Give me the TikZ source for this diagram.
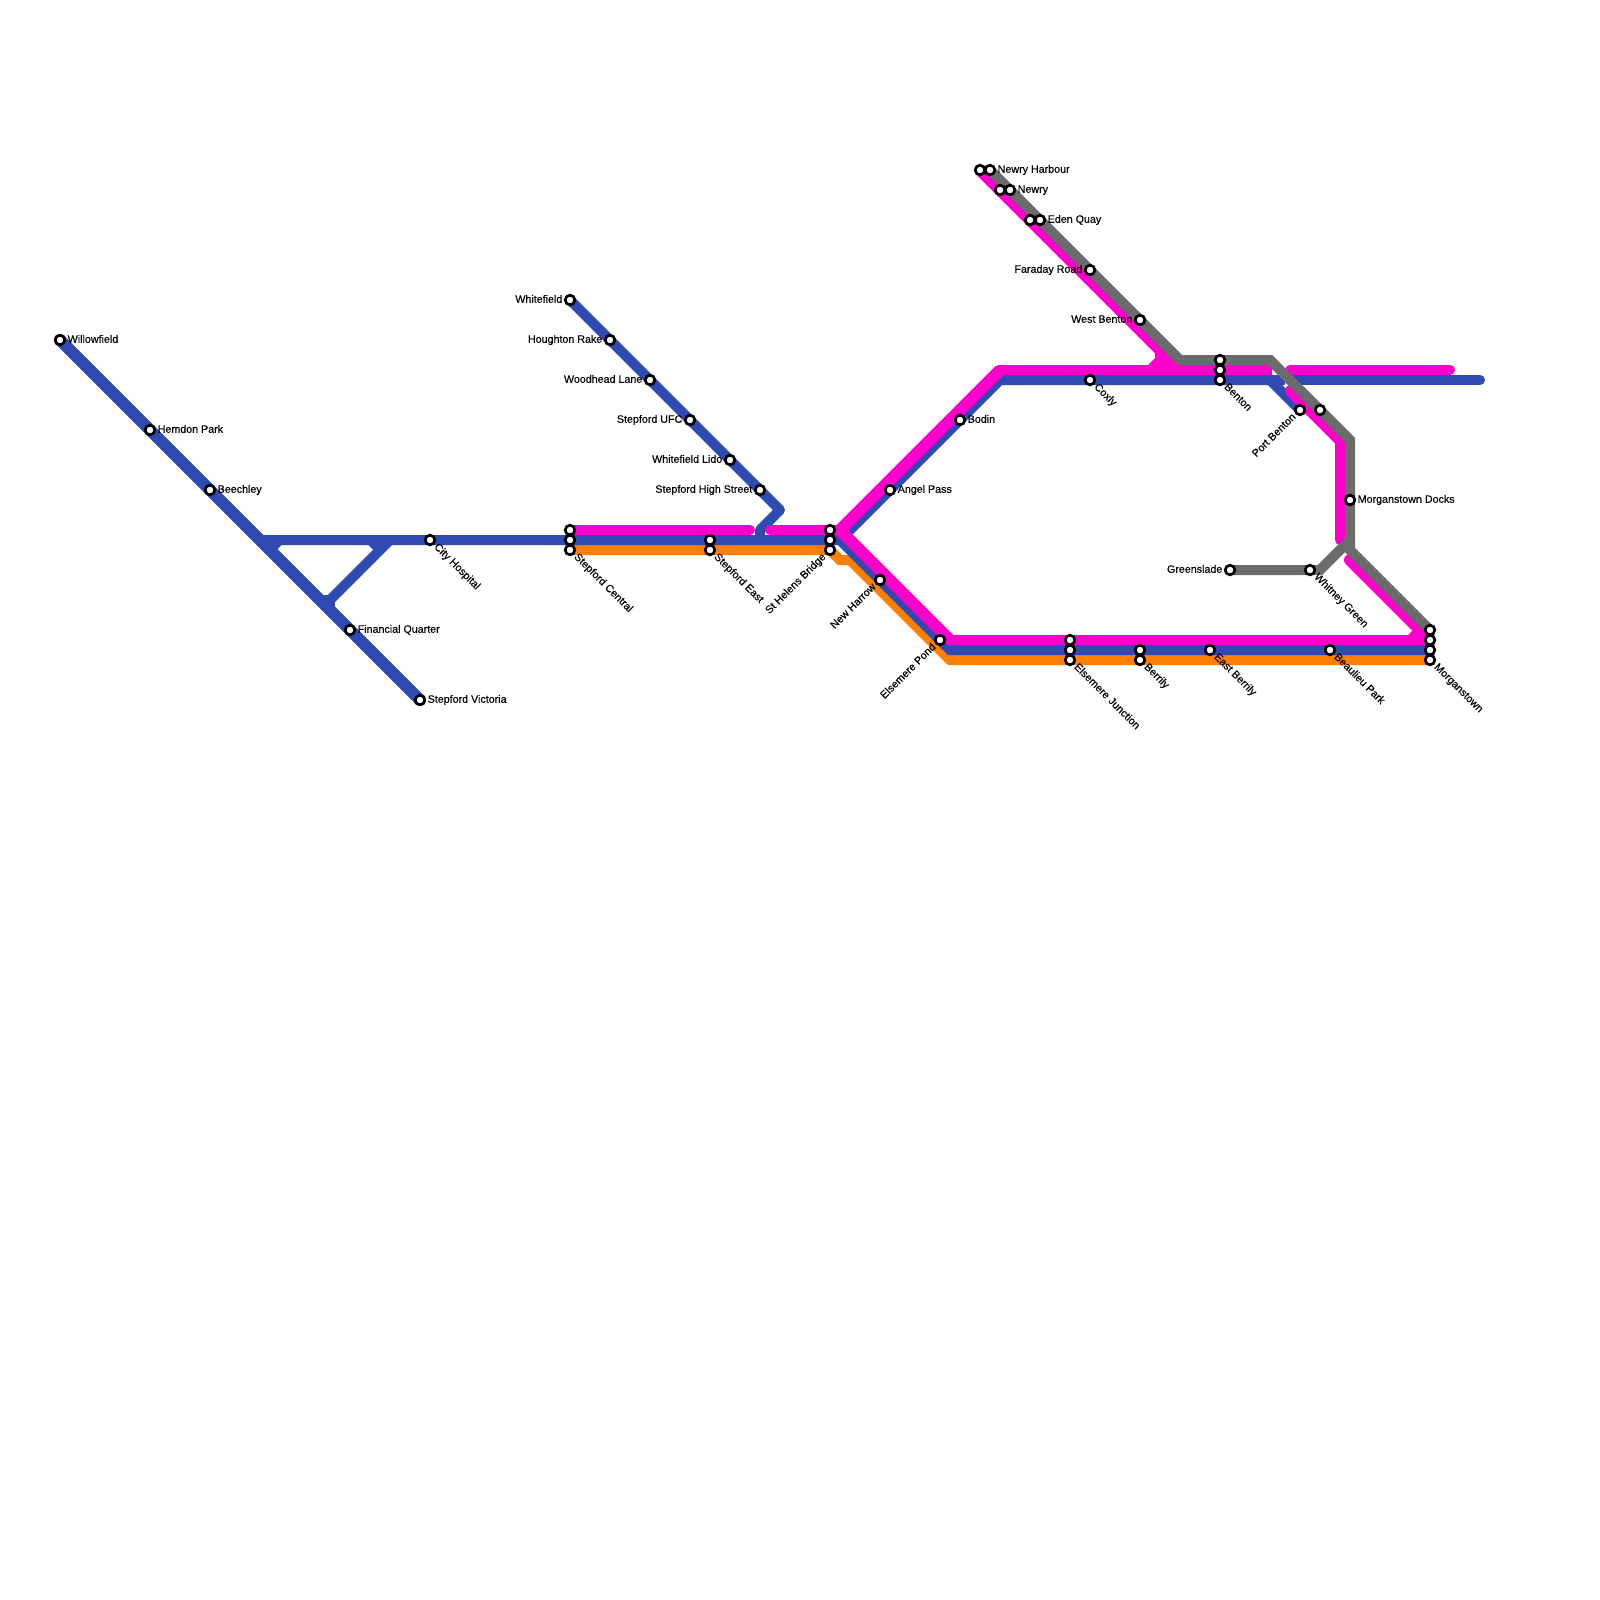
\documentclass[tikz,border=0pt]{standalone}
\usepackage{fontspec}
\setmainfont[FakeBold=0.3]{Liberation Sans}
\definecolor{lblue}{HTML}{2F4BB2}
\definecolor{lmag}{HTML}{FF00CC}
\definecolor{lor}{HTML}{FF7F00}
\definecolor{lgray}{HTML}{6B6B6B}
\tikzset{
  metro/.style={line width=10pt,line join=miter,miter limit=10},
  blueline/.style={metro,draw=lblue},
  magline/.style={metro,draw=lmag},
  orline/.style={metro,draw=lor},
  grayline/.style={metro,draw=lgray},
  wideSW/.style={line width=12pt,shift={(-0.75pt,0.75pt)}},
  stn/.style={circle,draw=black,fill=white,line width=2.7pt,minimum size=9.6pt,inner sep=0pt},
  lab/.style={font=\fontsize{10.7}{10.7}\selectfont,inner sep=0pt,text height=7.7pt,text depth=2.2pt,text=black},
  labR/.style={lab,anchor=west},
  labL/.style={lab,anchor=east},
  labD/.style={lab,anchor=west,rotate=-45},
  labU/.style={lab,anchor=east,rotate=45},
}
\newcommand{\stR}[4]{\node[stn] (s#1) at (#2,#3) {}; \node[labR] (t#1) at (#2+7.5,#3) {#4};}
\newcommand{\stL}[4]{\node[stn] (s#1) at (#2,#3) {}; \node[labL] (t#1) at (#2-7.5,#3) {#4};}
\newcommand{\stD}[4]{\node[stn] (s#1) at (#2,#3) {}; \node[labD] (t#1) at (#2+5.5,#3+5.5) {#4};}
\newcommand{\stU}[4]{\node[stn] (s#1) at (#2,#3) {}; \node[labU] (t#1) at (#2-5.5,#3+5.5) {#4};}
\newcommand{\stO}[3]{\node[stn] (s#1) at (#2,#3) {};}
\begin{document}
\begin{tikzpicture}[x=1pt,y=-1pt]
\useasboundingbox[fill=white] (0,0) rectangle (1600,1600);
% route vertices
\coordinate (bW) at (60,340);
\coordinate (bV) at (420,700);
\coordinate (bH) at (262,540);
\coordinate (bA) at (390,540);
\coordinate (bB) at (330,600);
\coordinate (bC) at (840,540);
\coordinate (bD) at (950,650);
\coordinate (bE) at (1430,650);
\coordinate (bF) at (1000,380);
\coordinate (bG) at (1285,380);
\coordinate (bI) at (1270,380);
\coordinate (bJ) at (1300,410);
\coordinate (bK) at (1290,380);
\coordinate (bL) at (1480,380);
\coordinate (bT) at (570,300);
\coordinate (bU) at (780,510);
\coordinate (bX) at (760,530);
\coordinate (bY) at (760,540);
\coordinate (mA) at (570,530);
\coordinate (mB) at (750,530);
\coordinate (mC) at (770,530);
\coordinate (mD) at (840,530);
\coordinate (mE) at (1000,370);
\coordinate (mF) at (1272,370);
\coordinate (mG) at (1290,370);
\coordinate (mH) at (1450,370);
\coordinate (mI) at (950,640);
\coordinate (mJ) at (1430,640);
\coordinate (mK) at (980,170);
\coordinate (mL) at (1180,370);
\coordinate (mM) at (1290,390);
\coordinate (mN) at (1340,440);
\coordinate (mO) at (1340,540);
\coordinate (mP) at (1350,560);
\coordinate (oA) at (570,550);
\coordinate (oB) at (830,550);
\coordinate (oC) at (840,560);
\coordinate (oD) at (850,560);
\coordinate (oE) at (950,660);
\coordinate (oF) at (1430,660);
\coordinate (gA) at (990,170);
\coordinate (gB) at (1180,360);
\coordinate (gC) at (1270,360);
\coordinate (gD) at (1350,440);
\coordinate (gE) at (1350,550);
\coordinate (gF) at (1430,630);
\coordinate (gG) at (1230,570);
\coordinate (gH) at (1320,570);
\coordinate (gI) at (1350,540);
% orange
\draw[orline] (oA) -- (oB) -- (oC) -- (oD) -- (oE) -- (oF);
% blue
\draw[blueline,line cap=round,wideSW] (bW) -- (bV);
\draw[blueline] (bH) -- (bC) -- (bD) -- (bE);
\draw[blueline] (bA) -- (bB);
\fill[lblue] (322,595) rectangle (335,607);
\fill[lblue] (265,545) -- (281.7,545) -- (277.3,549.3) -- (270,551) -- cycle;
\fill[lblue] (368.3,545) -- (372.7,549.3) -- (385,547) -- (385,545) -- cycle;
\draw[blueline,line cap=round,line join=round] (bT) -- (bU) -- (bX) -- (bY);
\draw[blueline] (bC) -- (bF) -- (bG);
\draw[blueline] (bI) -- (bJ);
\draw[blueline,line cap=round] (bK) -- (bL);
% magenta
\draw[magline,line cap=round] (mA) -- (mB);
\draw[magline] (mD) -- (mE) -- (mF);
\draw[magline] (mD) -- (mI) -- (mJ);
\draw[magline,line width=12pt,shift={(-0.75pt,-0.75pt)}] (mD) -- (mE);
\draw[magline,wideSW] (mD) -- (mI);
\draw[magline,line cap=round] (mC) -- (mD);
\draw[magline,line cap=round] (mG) -- (mH);
\draw[magline,wideSW] (mK) -- (mL);
\fill[lmag] (1155,352) -- (1155,358) -- (1148,365) -- (1175,365) -- cycle;
\draw[magline,line cap=round] (mM) -- (mN) -- (mO);
\draw[magline,wideSW] (mM) -- (mN);
\draw[magline,line cap=round,wideSW] (mP) -- (mJ);
\fill[lmag] (1413,630) -- (1408,635) -- (1430,635) -- (1430,630) -- cycle;
% gray
\draw[grayline] (gA) -- (gB) -- (gC) -- (gD) -- (gE) -- (gF);
\draw[grayline] (gG) -- (gH) -- (gI);
% stations
\stR{willow}{60}{340}{Willowfield}
\stR{hemdon}{150}{430}{Hemdon Park}
\stR{beech}{210}{490}{Beechley}
\stR{fin}{350}{630}{Financial Quarter}
\stR{vict}{420}{700}{Stepford Victoria}
\stD{city}{430}{540}{City Hospital}
\stO{scA}{570}{530}
\stO{scB}{570}{540}
\stD{scC}{570}{550}{Stepford Central}
\stL{white}{570}{300}{Whitefield}
\stL{hough}{610}{340}{Houghton Rake}
\stL{wood}{650}{380}{Woodhead Lane}
\stL{ufc}{690}{420}{Stepford UFC}
\stL{lido}{730}{460}{Whitefield Lido}
\stL{high}{760}{490}{Stepford High Street}
\stO{seA}{710}{540}
\stD{seB}{710}{550}{Stepford East}
\stO{shA}{830}{530}
\stO{shB}{830}{540}
\stU{shC}{830}{550}{St Helens Bridge}
\stR{angel}{890}{490}{Angel Pass}
\stR{bodin}{960}{420}{Bodin}
\stU{harrow}{880}{580}{New Harrow}
\stU{pond}{940}{640}{Elsemere Pond}
\stO{ejA}{1070}{640}
\stO{ejB}{1070}{650}
\stD{ejC}{1070}{660}{Elsemere Junction}
\stO{beA}{1140}{650}
\stD{beB}{1140}{660}{Berrily}
\stD{ebe}{1210}{650}{East Berrily}
\stD{beau}{1330}{650}{Beaulieu Park}
\stO{moA}{1430}{630}
\stO{moB}{1430}{640}
\stO{moC}{1430}{650}
\stD{moD}{1430}{660}{Morganstown}
\stD{whit}{1310}{570}{Whitney Green}
\stL{green}{1230}{570}{Greenslade}
\stR{docks}{1350}{500}{Morganstown Docks}
\stU{port}{1300}{410}{Port Benton}
\stO{portB}{1320}{410}
\stO{benA}{1220}{360}
\stO{benB}{1220}{370}
\stD{benC}{1220}{380}{Benton}
\stD{cox}{1090}{380}{Coxly}
\stL{west}{1140}{320}{West Benton}
\stL{fara}{1090}{270}{Faraday Road}
\stO{edA}{1030}{220}
\stR{edB}{1040}{220}{Eden Quay}
\stO{neA}{1000}{190}
\stR{neB}{1010}{190}{Newry}
\stO{nhA}{980}{170}
\stR{nhB}{990}{170}{Newry Harbour}
\end{tikzpicture}
\end{document}
